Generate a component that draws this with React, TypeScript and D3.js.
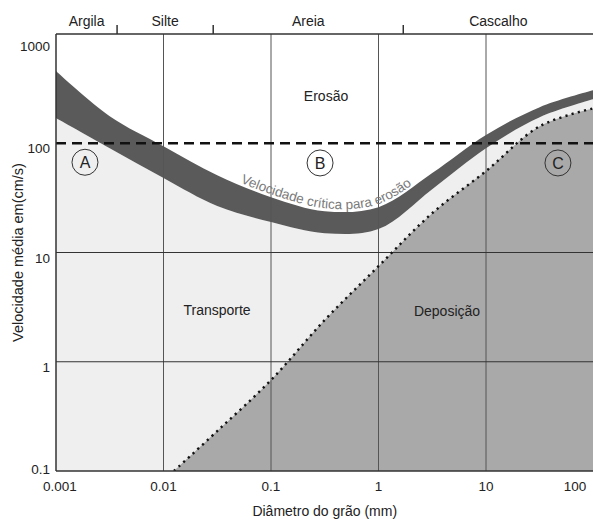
import React, { useEffect, useRef } from 'react';
import * as d3 from 'd3';

// faixa de velocidade crítica para erosão (limites superior e inferior)
const grainSizes = [0.001, 0.00316, 0.01, 0.0316, 0.1, 0.316, 1, 3.16, 10, 31.6, 100];
const erosionUpper = [459, 177, 94, 51, 32.1, 23.9, 26, 53.3, 119, 214, 306];
const erosionLower = [170, 90, 48, 26.6, 19, 15, 16.4, 38, 90, 173, 253];

// curva de deposição (pontilhada)
const depositionSizes = [0.0125, 0.0316, 0.1, 0.316, 1, 3.16, 10, 31.6, 100];
const depositionVelocity = [0.1, 0.232, 0.68, 2.41, 7.5, 22.9, 55.6, 143, 209];

const xTicks = [0.001, 0.01, 0.1, 1, 10, 100];
const xTickLabels = ['0.001', '0.01', '0.1', '1', '10', '100'];
const yTicks = [0.1, 1, 10, 100, 1000];
const yTickLabels = ['0.1', '1', '10', '100', '1000'];

const classNames = ['Argila', 'Silte', 'Areia', 'Cascalho'];
const classBounds = [0.001, 0.0037, 0.029, 1.7, 100];

const zoneNames = ['Erosão', 'Transporte', 'Deposição'];
const zoneSizes = [0.325, 0.0315, 4.34];
const zoneVelocities = [270, 2.97, 2.91];

const markerNames = ['A', 'B', 'C'];
const markerSizes = [0.00186, 0.286, 46.7];
const markerVelocities = [67, 66, 66];

const threshold = 100;

const width = 593;
const height = 520;
const margin = { top: 34, right: 0, bottom: 49, left: 56 };
const font = '"Liberation Sans", Arial, sans-serif';
const smooth = d3.curveCatmullRom.alpha(0.5);

const App: React.FC = () => {
  const svgRef = useRef<SVGSVGElement>(null);

  useEffect(() => {
    if (!svgRef.current) return;
    const svg = d3.select(svgRef.current);
    svg.selectAll('*').remove();

    const x = d3.scaleLog().domain([0.001, 100]).range([margin.left, 593.5]);
    const y = d3.scaleLog().domain([0.1, 1000]).range([height - margin.bottom, margin.top]);
    const x0 = x.range()[0];
    const x1 = x.range()[1];
    const yb = y.range()[0];
    const yt = y.range()[1];

    const defs = svg.append('defs');
    defs
      .append('clipPath')
      .attr('id', 'plot')
      .append('rect')
      .attr('x', x0)
      .attr('y', yt)
      .attr('width', x1 - x0)
      .attr('height', yb - yt);

    const plot = svg.append('g').attr('clip-path', 'url(#plot)');
    plot.append('rect').attr('x', x0).attr('y', yt).attr('width', x1 - x0).attr('height', yb - yt).style('fill', '#fff');

    const idx = grainSizes.map((_, i) => i);

    // transporte (abaixo da faixa)
    const transport = d3
      .area<number>()
      .x((i) => x(grainSizes[i]))
      .y0(yb)
      .y1((i) => y(erosionLower[i]))
      .curve(smooth);
    plot.append('path').attr('d', transport(idx)).style('fill', '#efefef');

    // deposição
    const dIdx = depositionSizes.map((_, i) => i);
    const deposition = d3
      .area<number>()
      .x((i) => x(depositionSizes[i]))
      .y0(yb)
      .y1((i) => y(depositionVelocity[i]))
      .curve(smooth);
    plot.append('path').attr('d', deposition(dIdx)).style('fill', '#a9a9a9');

    // faixa
    const band = d3
      .area<number>()
      .x((i) => x(grainSizes[i]))
      .y0((i) => y(erosionLower[i]))
      .y1((i) => y(erosionUpper[i]))
      .curve(smooth);
    plot.append('path').attr('d', band(idx)).style('fill', '#5a5a5a');

    // grade
    plot.selectAll('.vgrid')
      .data(xTicks.slice(1, -1))
      .enter()
      .append('line')
      .attr('x1', (d) => x(d))
      .attr('x2', (d) => x(d))
      .attr('y1', yt)
      .attr('y2', yb)
      .style('stroke', '#555')
      .style('stroke-width', 1);
    plot.selectAll('.hgrid')
      .data([1, 10])
      .enter()
      .append('line')
      .attr('x1', x0)
      .attr('x2', x1)
      .attr('y1', (d) => y(d))
      .attr('y2', (d) => y(d))
      .style('stroke', '#333')
      .style('stroke-width', 1);

    // linha pontilhada
    const depLine = d3
      .line<number>()
      .x((i) => x(depositionSizes[i]))
      .y((i) => y(depositionVelocity[i]))
      .curve(smooth);
    plot.append('path')
      .attr('d', depLine(dIdx))
      .style('fill', 'none')
      .style('stroke', '#111')
      .style('stroke-width', 2.4)
      .style('stroke-dasharray', '2.2 4.2');

    // linha tracejada 100 cm/s
    plot.append('line')
      .attr('x1', x0)
      .attr('x2', x1)
      .attr('y1', y(threshold))
      .attr('y2', y(threshold))
      .style('stroke', '#111')
      .style('stroke-width', 2.5)
      .style('stroke-dasharray', '10 6');

    // texto curvo
    const upperLine = d3
      .line<number>()
      .x((i) => x(grainSizes[i]))
      .y((i) => y(erosionUpper[i]) - 3)
      .curve(smooth);
    const guide = defs.append('path').attr('id', 'guide').attr('d', upperLine(idx));
    const node = guide.node() as SVGPathElement;
    const total = node.getTotalLength();
    let offset = 0;
    for (let l = 0; l < total; l += 1) {
      if (node.getPointAtLength(l).x >= 326) {
        offset = l;
        break;
      }
    }
    svg.append('text')
      .style('font-family', font)
      .style('font-size', '13.5px')
      .style('fill', '#7a7a7a')
      .append('textPath')
      .attr('href', '#guide')
      .attr('startOffset', offset)
      .attr('text-anchor', 'middle')
      .text('Velocidade crítica para erosão');

    // moldura
    const frame = svg.append('g').style('stroke', '#333').style('fill', 'none');
    frame.append('line').attr('x1', x0).attr('x2', x0).attr('y1', yt).attr('y2', yb).style('stroke-width', 1.5);
    frame.append('line').attr('x1', x0).attr('x2', x1).attr('y1', yb).attr('y2', yb).style('stroke-width', 1.5);
    frame.append('line').attr('x1', x0).attr('x2', x1).attr('y1', yt).attr('y2', yt).style('stroke-width', 1.3);
    frame.selectAll('.ctick')
      .data(classBounds.slice(1, -1))
      .enter()
      .append('line')
      .attr('x1', (d) => x(d))
      .attr('x2', (d) => x(d))
      .attr('y1', yt - 9)
      .attr('y2', yt)
      .style('stroke-width', 1.5);

    const txt = svg.append('g').style('font-family', font).style('fill', '#222');

    txt.selectAll('.cls')
      .data(classNames)
      .enter()
      .append('text')
      .attr('x', (_, i) => x(Math.sqrt(classBounds[i] * classBounds[i + 1])))
      .attr('y', yt - 8)
      .attr('text-anchor', 'middle')
      .style('font-size', '14px')
      .text((d) => d);

    txt.selectAll('.xt')
      .data(xTicks)
      .enter()
      .append('text')
      .attr('x', (d) => Math.min(x(d) + (d === 0.001 ? 4 : 0), width - 18))
      .attr('y', yb + 20)
      .attr('text-anchor', 'middle')
      .style('font-size', '13.5px')
      .text((_, i) => xTickLabels[i]);

    txt.selectAll('.yt')
      .data(yTicks)
      .enter()
      .append('text')
      .attr('x', x0 - 6)
      .attr('y', (d) => Math.max(Math.min(y(d) + 10, yb + 3), yt + 17))
      .attr('text-anchor', 'end')
      .style('font-size', '13.5px')
      .text((_, i) => yTickLabels[i]);

    txt.append('text')
      .attr('x', (x0 + x1) / 2)
      .attr('y', height - 4)
      .attr('text-anchor', 'middle')
      .style('font-size', '14px')
      .text('Diâmetro do grão  (mm)');

    txt.append('text')
      .attr('transform', `translate(23,${(yt + yb) / 2}) rotate(-90)`)
      .attr('text-anchor', 'middle')
      .style('font-size', '14.5px')
      .text('Velocidade média em(cm/s)');

    txt.selectAll('.zone')
      .data(zoneNames)
      .enter()
      .append('text')
      .attr('x', (_, i) => x(zoneSizes[i]))
      .attr('y', (_, i) => y(zoneVelocities[i]))
      .attr('dy', '0.35em')
      .attr('text-anchor', 'middle')
      .style('font-size', '14px')
      .text((d) => d);

    const marks = svg.append('g').selectAll('.mk').data(markerNames).enter().append('g')
      .attr('transform', (_, i) => `translate(${x(markerSizes[i])},${y(markerVelocities[i])})`);
    marks.append('circle').attr('r', 13).style('fill', 'none').style('stroke', '#333').style('stroke-width', 1);
    marks.append('text')
      .attr('dy', '0.36em')
      .attr('text-anchor', 'middle')
      .style('font-family', font)
      .style('font-size', '16px')
      .style('fill', '#222')
      .text((d) => d);
  }, []);

  return (
    <div style={{ position: 'absolute', left: 0, top: 0 }}>
      <svg ref={svgRef} width={width} height={height} style={{ display: 'block', background: '#fff' }} />
    </div>
  );
};

export default App;
